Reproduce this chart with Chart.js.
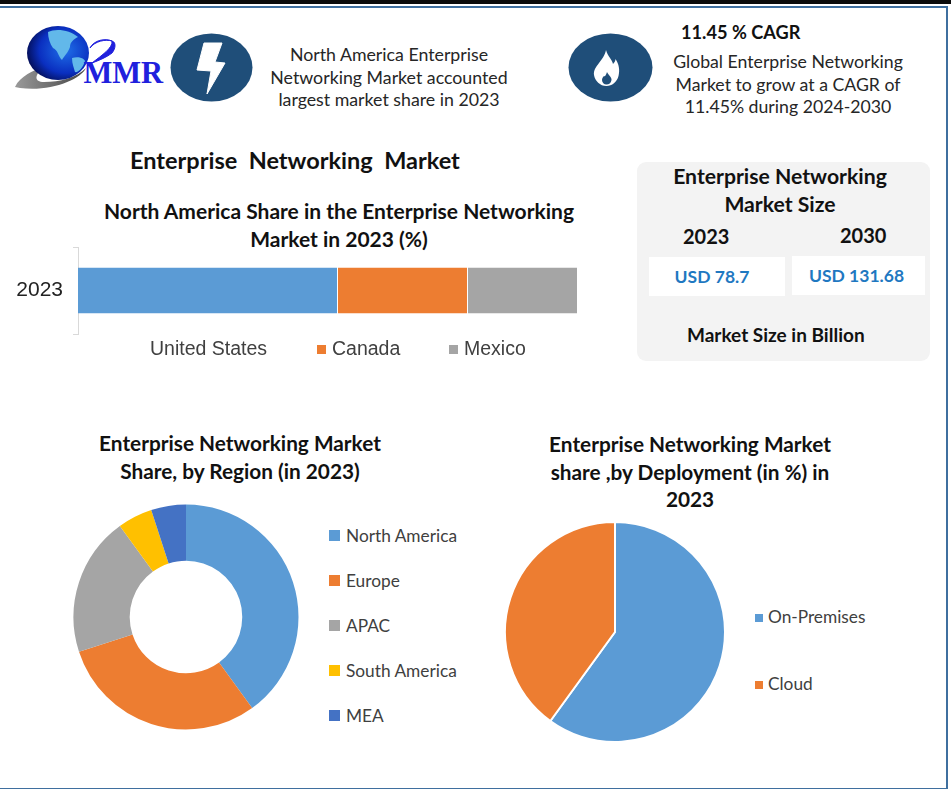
<!DOCTYPE html>
<html>
<head>
<meta charset="utf-8">
<title>Enterprise Networking Market</title>
<script src="https://cdn.jsdelivr.net/npm/chart.js@4/dist/chart.umd.min.js"></script>
<style>
html, body { margin: 0; padding: 0; background: #fff; }
#page { position: relative; width: 951px; height: 789px; overflow: hidden; background: #fff; font-family: Lato, "Noto Sans", sans-serif; color: #262626; }
#topbar { position: absolute; left: 0; top: 0; width: 951px; height: 4px; background: #0a0a0a; }
#frame { position: absolute; left: 0; top: 6px; width: 946px; height: 780px; border: 2px solid #3f6f9f; border-left: 0; }
.t { position: absolute; text-align: center; white-space: nowrap; }
.b { font-weight: 700; color: #111; }
.chart { position: absolute; }
#panel { position: absolute; left: 637px; top: 162px; width: 293px; height: 199px; background: #f3f3f3; border-radius: 9px; }
.usd { position: absolute; top: 257px; height: 39px; line-height: 40px; background: #fff; color: #1f78c1; font-weight: 700; font-size: 17.500px; text-align: center; box-sizing: border-box; padding-right: 4px; }
svg { position: absolute; }
.legend { position: absolute; color: #404040; }
.legend div { position: absolute; white-space: nowrap; line-height: 20px; }
.legend i { display: inline-block; vertical-align: 1px; }
</style>
</head>
<body>
<div id="page">
  <div id="topbar"></div>
  <div id="frame"></div>

  <svg style="left:10px;top:20px" width="165" height="75" viewBox="0 0 165 75">
    <defs>
      <radialGradient id="globe" cx="0.62" cy="0.45" r="0.65">
        <stop offset="0" stop-color="#1f6fe8"/><stop offset="0.65" stop-color="#0a2fc0"/><stop offset="1" stop-color="#030c50"/>
      </radialGradient>
      <linearGradient id="swoosh" x1="0" x2="1"><stop offset="0" stop-color="#9a9a9a"/><stop offset="1" stop-color="#444"/></linearGradient>
    </defs>
    <path d="M5 67 C10 56 24 50 34 47 C24 55 24 62 34 62 C50 62 66 58 76 48 C70 60 40 72 10 68 Z" fill="url(#swoosh)"/>
    <ellipse cx="48" cy="33" rx="31" ry="27" fill="url(#globe)"/>
    <path d="M38 12 C46 8 60 10 68 17 C64 19 60 22 60 27 C58 33 54 36 52 40 C48 36 48 30 43 28 C40 24 38 18 38 12 Z" fill="#62b8ea"/>
    <path d="M62 38 C68 36 74 38 75 41 C73 48 68 53 65 52 C64 48 62 44 62 38 Z" fill="#62b8ea"/>
    <path d="M80 28 C85 21 96 19 102 21 C103 28 92 35 82 43 C90 40 97 37 102 33 C106 28 106 22 102 21 C95 18 84 20 80 28 Z" fill="#2020dd" stroke="#2020dd" stroke-width="1"/>
    <text x="73.500" y="62.500" font-family="Liberation Serif" font-weight="700" font-size="30.500" fill="#2020dd">MMR</text>
  </svg>

  <svg style="left:170px;top:33px" width="84" height="69" viewBox="0 0 84 69">
    <ellipse cx="41.500" cy="34.500" rx="41" ry="34" fill="#1f4e79"/>
    <path d="M34 10 L52 10 L45 29 L55 30 L37 61 L41 38 L27 37 Z" fill="#fff" stroke="#fff" stroke-width="1" stroke-linejoin="round"/>
  </svg>
  <svg style="left:568px;top:33px" width="85" height="69" viewBox="0 0 85 69">
    <ellipse cx="42.500" cy="34.500" rx="42" ry="34" fill="#1f4e79"/>
    <path d="M38 17 C40 24 44 26 45 31 C47 29 47.500 27 47.500 26 C51 31 52 37 50.500 43 C49 49 44 53 38.500 53 C32 53 27 48 26 42 C25 33 36 28 38 17 Z" fill="#fff"/>
    <path d="M39 39 C40 42 44 44 43.500 47 C43 50 41 51.500 38.500 51.500 C36 51.500 34 49.500 34 47 C34 45 35 44 36 43 C37 44 38 42 39 39 Z" fill="#1f4e79"/>
  </svg>

  <div class="t" style="left:250px;top:43px;width:278px;font-size:17.750px;line-height:22.500px">North America Enterprise<br>Networking Market accounted<br>largest market share in 2023</div>
  <div class="t b" style="left:681px;top:21px;font-size:18.200px">11.45 % CAGR</div>
  <div class="t" style="left:648px;top:51px;width:280px;font-size:17.700px;line-height:22.500px">Global Enterprise Networking<br>Market to grow at a CAGR of<br>11.45% during 2024-2030</div>

  <div class="t b" style="left:130px;top:146px;font-size:23.500px">Enterprise&nbsp; Networking&nbsp; Market</div>
  <div class="t b" style="left:90px;top:197px;width:498px;font-size:21px;line-height:28px">North America Share in the Enterprise Networking<br>Market in 2023 (%)</div>

  <div id="panel"></div>
  <div class="t b" style="left:637px;top:162px;width:286px;font-size:21.200px;line-height:28px">Enterprise Networking<br>Market Size</div>
  <div class="t b" style="left:683px;top:224px;font-size:20px">2023</div>
  <div class="t b" style="left:840px;top:223px;font-size:20px">2030</div>
  <div class="usd" style="left:649px;width:136px;padding-right:10px">USD 78.7</div>
  <div class="usd" style="left:792px;width:133px;top:256px;padding-right:4px">USD 131.68</div>
  <div class="t b" style="left:687px;top:323px;font-size:19px">Market Size in Billion</div>

  <div class="chart" style="left:0;top:240px;width:600px;height:100px"><canvas id="barChart"></canvas></div>
  <div class="legend" id="barLegend" style="left:0;top:338px;font-family:'Liberation Sans';font-size:19.500px"></div>

  <div class="t b" style="left:60px;top:429px;width:360px;font-size:20.800px;line-height:28px">Enterprise Networking Market<br>Share, by Region (in 2023)</div>
  <div class="t b" style="left:510px;top:430px;width:360px;font-size:20.800px;line-height:27.500px">Enterprise Networking Market<br>share ,by Deployment (in %) in<br>2023</div>

  <div class="chart" style="left:66px;top:497px;width:240px;height:240px"><canvas id="regionChart"></canvas></div>
  <div class="legend" id="regionLegend" style="left:329px;top:526px;font-size:17.300px"></div>

  <div class="chart" style="left:495px;top:512px;width:240px;height:240px"><canvas id="deployChart"></canvas></div>
  <div class="legend" id="deployLegend" style="left:755px;top:607px;font-size:17.300px"></div>
</div>

<script>
const shareYear = ['2023'];
const shareCountries = ['United States', 'Canada', 'Mexico'];
const shareValues = [52, 26, 22];
const shareColors = ['#5b9bd5', '#ed7d31', '#a5a5a5'];

const regions = ['North America', 'Europe', 'APAC', 'South America', 'MEA'];
const regionValues = [40, 30, 20, 5, 5];
const regionColors = ['#5b9bd5', '#ed7d31', '#a5a5a5', '#ffc000', '#4472c4'];

const deployments = ['On-Premises', 'Cloud'];
const deployValues = [60, 40];
const deployColors = ['#5b9bd5', '#ed7d31'];

// html legends, the spacing of the original is wider than the chart legend allows
function fillLegend(id, names, colors, place, box, gap) {
    const holder = document.getElementById(id);
    names.forEach((name, i) => {
        const row = document.createElement('div');
        const spot = place(i);
        row.style.left = spot.x + 'px';
        row.style.top = spot.y + 'px';
        const swatch = document.createElement('i');
        swatch.style.width = box + 'px';
        swatch.style.height = box + 'px';
        swatch.style.marginRight = gap + 'px';
        swatch.style.background = colors[i];
        row.appendChild(swatch);
        row.appendChild(document.createTextNode(name));
        holder.appendChild(row);
    });
}

const barLegendX = [135, 317, 449];
// United States has no visible swatch in the original
fillLegend('barLegend', shareCountries, ['#fff', '#ed7d31', '#a5a5a5'], (i) => ({ x: barLegendX[i], y: 0 }), 9, 6);
fillLegend('regionLegend', regions, regionColors, (i) => ({ x: 0, y: i * 45 }), 11, 6);
fillLegend('deployLegend', deployments, deployColors, (i) => ({ x: 0, y: i * 67 }), 8, 5);

new Chart(document.getElementById('barChart'), {
    type: 'bar',
    data: {
        labels: shareYear,
        datasets: shareCountries.map((name, i) => ({
            label: name,
            data: [shareValues[i]],
            backgroundColor: shareColors[i],
            borderColor: '#fff',
            borderWidth: { right: 1, left: 1 },
            barPercentage: 1,
            categoryPercentage: 0.53
        }))
    },
    options: {
        indexAxis: 'y',
        responsive: true,
        maintainAspectRatio: false,
        animation: false,
        layout: { padding: { left: 0, right: 22, top: 7, bottom: 6 } },
        scales: {
            x: { stacked: true, min: 0, max: 100, display: false },
            y: {
                stacked: true,
                // no room kept for the tick label overhang, the axis runs the full height
                afterFit: (axis) => { axis.width = 78; axis.paddingTop = 0; axis.paddingBottom = 0; },
                grid: { drawOnChartArea: false, color: '#d9d9d9', tickLength: 5 },
                border: { color: '#d9d9d9' },
                ticks: { color: '#222', padding: 10, font: { family: 'Liberation Sans', size: 21 } }
            }
        },
        plugins: { tooltip: { enabled: false }, legend: { display: false } }
    }
});

function pieOptions() {
    return {
        responsive: true,
        maintainAspectRatio: false,
        animation: false,
        plugins: { tooltip: { enabled: false }, legend: { display: false } }
    };
}

new Chart(document.getElementById('regionChart'), {
    type: 'doughnut',
    data: {
        labels: regions,
        datasets: [{ data: regionValues, backgroundColor: regionColors, borderColor: '#fff', borderWidth: 0, radius: 112.5 }]
    },
    options: { ...pieOptions(), cutout: '50%' }
});

new Chart(document.getElementById('deployChart'), {
    type: 'pie',
    data: {
        labels: deployments,
        datasets: [{ data: deployValues, backgroundColor: deployColors, borderColor: '#fff', borderWidth: 2, radius: 110 }]
    },
    options: pieOptions()
});
</script>
</body>
</html>
